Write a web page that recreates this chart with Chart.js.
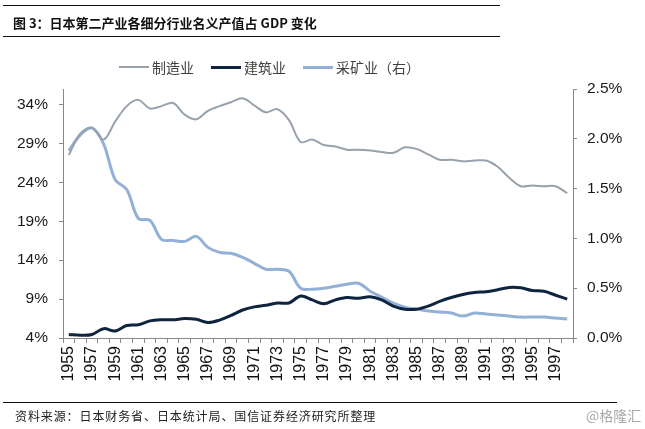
<!DOCTYPE html>
<html>
<head>
<meta charset="utf-8">
<script src="https://cdn.jsdelivr.net/npm/chart.js@4.4.1/dist/chart.umd.min.js"></script>
<style>
  body { margin: 0; background: #fff; }
  #wrap { position: relative; width: 645px; height: 429px; overflow: hidden; font-family: "Noto Sans CJK SC", sans-serif; }
  #chart { position: absolute; left: 0; top: 0; }
  .rule { position: absolute; left: 3px; width: 497px; height: 0; border-top: 1.5px solid #111; }
  #title { position: absolute; left: 13px; top: 13px; font-size: 13px; font-weight: bold; color: #111; line-height: 19px; white-space: nowrap; }
  #legend { position: absolute; left: 119px; top: 58px; display: flex; align-items: center; font-size: 14px; color: #404040; line-height: 18px; white-space: nowrap; }
  #legend .item { display: flex; align-items: center; margin-right: 17px; }
  #legend .swatch { width: 30px; margin-right: 3px; }
  #source { position: absolute; left: 15px; top: 407px; font-size: 12px; letter-spacing: 0.9px; color: #222; line-height: 18px; white-space: nowrap; }
  #mark { position: absolute; left: 586px; top: 406px; font-size: 14px; color: #aaa; line-height: 18px; white-space: nowrap; }
</style>
</head>
<body>
<div id="wrap">
  <canvas id="chart" width="645" height="429"></canvas>
  <div class="rule" style="top:5px"></div>
  <div id="title">图 3：日本第二产业各细分行业名义产值占 GDP 变化</div>
  <div class="rule" style="top:36px"></div>
  <div id="legend"></div>
  <div class="rule" style="top:402px; width:614px"></div>
  <div id="source">资料来源：日本财务省、日本统计局、国信证券经济研究所整理</div>
  <div id="mark">@格隆汇</div>
</div>
<script>
const years = ['1955','1956','1957','1958','1959','1960','1961','1962','1963','1964',
  '1965','1966','1967','1968','1969','1970','1971','1972','1973','1974',
  '1975','1976','1977','1978','1979','1980','1981','1982','1983','1984',
  '1985','1986','1987','1988','1989','1990','1991','1992','1993','1994',
  '1995','1996','1997','1998'];

// left axis, % of GDP
const manufacturing = [27.5, 30.3, 31.0, 29.5, 31.8, 33.8, 34.6, 33.5, 33.8, 34.2,
  32.7, 32.1, 33.2, 33.8, 34.3, 34.8, 33.9, 33.0, 33.4, 32.0,
  29.2, 29.5, 28.8, 28.6, 28.2, 28.2, 28.1, 27.9, 27.8, 28.5,
  28.3, 27.6, 26.9, 26.9, 26.7, 26.8, 26.8, 26.0, 24.6, 23.5,
  23.6, 23.5, 23.5, 22.6];
const construction = [4.45, 4.35, 4.45, 5.2, 4.9, 5.6, 5.7, 6.2, 6.35, 6.35,
  6.5, 6.4, 6.0, 6.3, 6.9, 7.6, 8.0, 8.2, 8.5, 8.5,
  9.4, 8.9, 8.4, 8.9, 9.2, 9.1, 9.3, 8.9, 8.1, 7.7,
  7.7, 8.1, 8.7, 9.2, 9.6, 9.85, 9.95, 10.2, 10.5, 10.45,
  10.1, 10.0, 9.5, 9.0];
// right axis, % of GDP
const mining = [1.88, 2.04, 2.11, 1.95, 1.59, 1.49, 1.20, 1.18, 0.99, 0.98,
  0.97, 1.02, 0.91, 0.86, 0.85, 0.81, 0.75, 0.69, 0.69, 0.67,
  0.50, 0.49, 0.50, 0.52, 0.54, 0.55, 0.47, 0.41, 0.35, 0.31,
  0.29, 0.27, 0.26, 0.25, 0.22, 0.25, 0.24, 0.23, 0.22, 0.21,
  0.21, 0.21, 0.20, 0.19];

const seriesNames = ['制造业', '建筑业', '采矿业（右）'];
const seriesColors = ['#98a2ac', '#0f243e', '#93b1d6'];
const seriesWidths = [2, 3, 3];

const leftTicks = [4, 9, 14, 19, 24, 29, 34];
const rightTicks = [0, 0.5, 1.0, 1.5, 2.0, 2.5];

const legend = document.getElementById('legend');
seriesNames.forEach(function (name, i) {
  const item = document.createElement('div');
  item.className = 'item';
  item.innerHTML = '<span class="swatch" style="border-top:' + seriesWidths[i] + 'px solid ' + seriesColors[i] + '"></span><span>' + name + '</span>';
  legend.appendChild(item);
});

const tickFont = { family: '"Liberation Sans", Arial, sans-serif', size: 15.5 };
const xFont = { family: '"Liberation Sans", Arial, sans-serif', size: 16 };
const axisColor = '#888';

const chart = new Chart(document.getElementById('chart'), {
  type: 'line',
  data: {
    labels: years,
    datasets: [
      {
        label: seriesNames[0],
        data: manufacturing,
        borderColor: seriesColors[0],
        borderWidth: seriesWidths[0],
        yAxisID: 'y',
        pointRadius: 0,
        tension: 0.35
      },
      {
        label: seriesNames[1],
        data: construction,
        borderColor: seriesColors[1],
        borderWidth: seriesWidths[1],
        yAxisID: 'y',
        pointRadius: 0,
        tension: 0.35
      },
      {
        label: seriesNames[2],
        data: mining,
        borderColor: seriesColors[2],
        borderWidth: seriesWidths[2],
        yAxisID: 'y1',
        pointRadius: 0,
        tension: 0.35
      }
    ]
  },
  options: {
    responsive: false,
    animation: false,
    layout: { padding: { top: 89, left: 0, right: 0, bottom: 0 } },
    plugins: { legend: { display: false }, tooltip: { enabled: false } },
    scales: {
      x: {
        offset: true,
        grid: { offset: true, drawOnChartArea: false, drawTicks: true, tickLength: 5, color: axisColor },
        border: { color: axisColor, width: 1 },
        ticks: {
          autoSkip: false,
          minRotation: 90,
          maxRotation: 90,
          padding: 3,
          color: '#111',
          font: xFont,
          callback: function (value, index) {
            return index % 2 === 0 ? this.getLabelForValue(value) : '';
          }
        },
        afterFit: function (scale) { scale.height = 91; }
      },
      y: {
        position: 'left',
        min: 4,
        max: 36,
        grid: { drawOnChartArea: false, drawTicks: true, tickLength: 4, color: axisColor },
        border: { color: axisColor, width: 1 },
        afterBuildTicks: function (scale) {
          scale.ticks = leftTicks.map(function (v) { return { value: v }; });
        },
        ticks: {
          padding: 11,
          color: '#1a1a1a',
          font: tickFont,
          callback: function (v) { return v + '%'; }
        },
        afterFit: function (scale) { scale.width = 63; }
      },
      y1: {
        position: 'right',
        min: 0,
        max: 2.5,
        grid: { drawOnChartArea: false, drawTicks: true, tickLength: 4, color: axisColor },
        border: { color: axisColor, width: 1 },
        afterBuildTicks: function (scale) {
          scale.ticks = rightTicks.map(function (v) { return { value: v }; });
        },
        ticks: {
          padding: 10,
          color: '#1a1a1a',
          font: tickFont,
          callback: function (v) { return v.toFixed(1) + '%'; }
        },
        afterFit: function (scale) { scale.width = 72; }
      }
    }
  }
});
</script>
</body>
</html>
